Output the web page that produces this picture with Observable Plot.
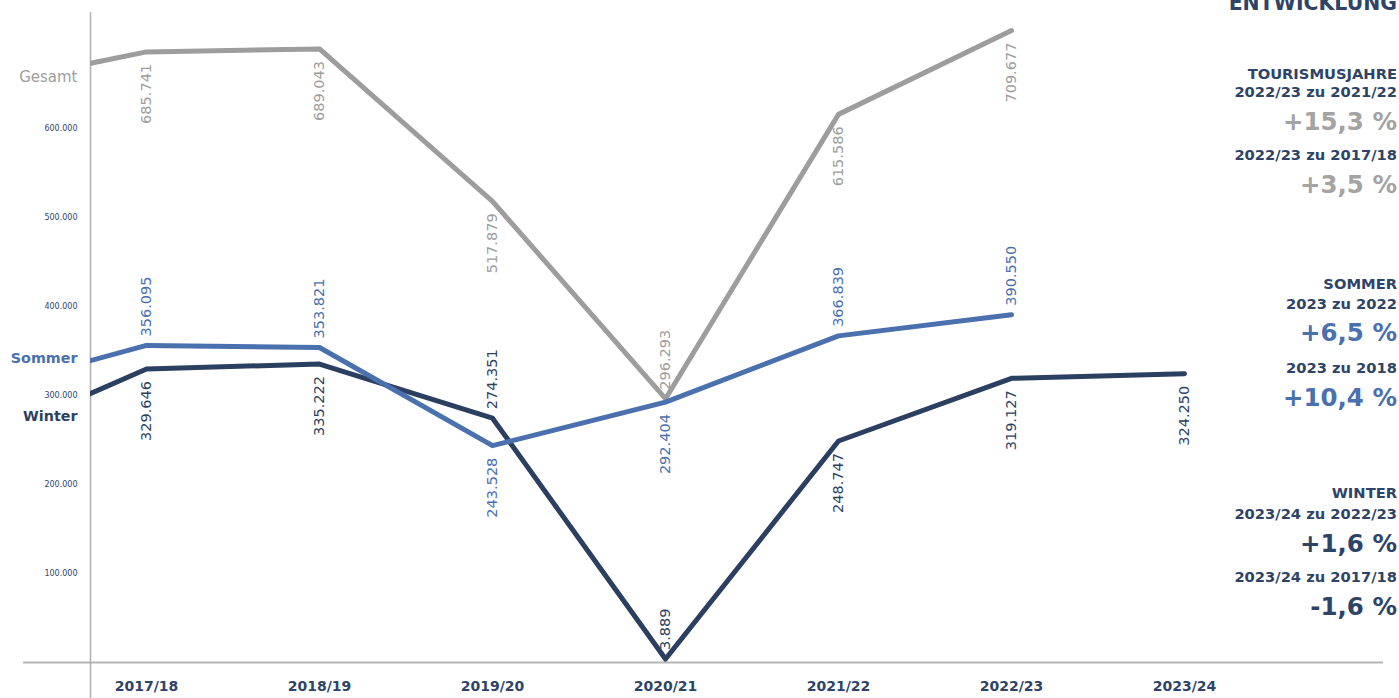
<!DOCTYPE html>
<html><head><meta charset="utf-8">
<script src="https://cdn.jsdelivr.net/npm/d3@7"></script>
<script src="https://cdn.jsdelivr.net/npm/@observablehq/plot@0.6"></script>
<style>
body{margin:0;background:#fff;font-family:"DejaVu Sans", sans-serif;}
#wrap{position:relative;width:1399px;height:698px;overflow:hidden;}
#panel{position:absolute;right:2px;top:0;width:300px;height:698px;}
.r{position:absolute;right:0;white-space:nowrap;line-height:1;font-weight:700;}
</style></head><body><div id="wrap"><div id="chart"></div><div id="panel"></div></div>
<script>
// ---- data ----
const seasons = ["2017/18","2018/19","2019/20","2020/21","2021/22","2022/23","2023/24"];
const gesamt = [685741, 689043, 517879, 296293, 615586, 709677];
const sommer = [356095, 353821, 243528, 292404, 366839, 390550];
const winter = [329646, 335222, 274351, 3889, 248747, 319127, 324250];
// estimated preceding season (2016/17), only the clipped lead-in is visible
const leadIn = [646400, 303300, 244200]; // Gesamt, Sommer, Winter
const gesamtPos = ["below","below","below","above","below","below"];
const sommerPos = ["above","above","below","below","above","above"];
const winterPos = ["below","below","above","above","below","below","below"];
const yTicks = [100000, 200000, 300000, 400000, 500000, 600000];
const seriesNames = ["Gesamt","Sommer","Winter"];
const panelText = [
  ["ENTWICKLUNG","h"],
  ["TOURISMUSJAHRE","s"],["2022/23 zu 2021/22","s"],["+15,3 %","bg"],["2022/23 zu 2017/18","s"],["+3,5 %","bg"],
  ["SOMMER","s"],["2023 zu 2022","s"],["+6,5 %","bb"],["2023 zu 2018","s"],["+10,4 %","bb"],
  ["WINTER","s"],["2023/24 zu 2022/23","s"],["+1,6 %","bn"],["2023/24 zu 2017/18","s"],["-1,6 %","bn"]
];

// ---- styles ----
const colors = {Gesamt:"#9d9d9d", Sommer:"#4a70ae", Winter:"#2b3f60"};
const navy = "#2e4467";
const panelY = [2.5,74,92,122,155,185,284,304,333,368,398,493,514,544,577,607];
const FONT = "'DejaVu Sans', sans-serif";

const de = d3.formatLocale({decimal:",", thousands:".", grouping:[3], currency:["","€"]});
const fmt = de.format(",d");

const series = [["Gesamt", gesamt, gesamtPos], ["Sommer", sommer, sommerPos], ["Winter", winter, winterPos]];
const lineData = [];
const labelData = [];
series.forEach(([s, vals, pos], k) => {
  lineData.push({s, i: -1, v: leadIn[k]});
  vals.forEach((v, i) => {
    lineData.push({s, i, v});
    labelData.push({s, i, v, pos: pos[i]});
  });
});

const xMin = -56/173, xMax = (1383-146)/173;
// value at the left frame edge, for series name placement
const edge = series.map(([s, vals], k) => ({s, v: leadIn[k] + (vals[0]-leadIn[k])*(1 + xMin)}));
const nameDy = {Gesamt: 14, Sommer: -2, Winter: 23};

const order = ["Gesamt","Winter","Sommer"];
const chart = Plot.plot({
  width: 1399, height: 698,
  marginLeft: 90, marginRight: 16, marginTop: 12, marginBottom: 36,
  x: {domain: [xMin, xMax], range: [90, 1383], axis: null, label: null},
  y: {domain: [0, 730000], range: [662, 12], axis: null, label: null},
  style: {fontFamily: FONT, background: "transparent", overflow: "visible"},
  marks: [
    Plot.ruleY([0], {x1: -123/173, x2: xMax, stroke: "#b5b5b5", strokeWidth: 2}),
    Plot.ruleX([xMin], {y1: 730000, y2: -40500, stroke: "#b0b0b0", strokeWidth: 1.5}),
    Plot.axisY({ticks: yTicks, tickFormat: fmt, tickSize: 0, tickPadding: 13, fontSize: 8, color: navy, label: null}),
    Plot.axisX({ticks: d3.range(seasons.length), tickFormat: i => seasons[i], tickSize: 0, tickPadding: 19, fontSize: 14, fontWeight: "bold", color: navy, label: null}),
    ...order.map(s => Plot.line(lineData.filter(d => d.s === s), {
      x: "i", y: "v", stroke: colors[s], strokeWidth: 5, strokeLinejoin: "round", clip: true
    })),
    ...["above","below"].map(p => Plot.text(labelData.filter(d => d.pos === p), {
      x: "i", y: "v", text: d => fmt(d.v), fill: d => colors[d.s], rotate: -90,
      textAnchor: p === "above" ? "start" : "end", lineAnchor: "middle",
      dy: p === "above" ? -9 : 12, fontSize: 14.5
    })),
    ...seriesNames.map(s => Plot.text(edge.filter(d => d.s === s), {
      frameAnchor: "left", y: "v", text: "s", fill: colors[s], textAnchor: "end",
      dx: -13, dy: nameDy[s], fontSize: s === "Gesamt" ? 15 : 14.3, fontWeight: s === "Gesamt" ? 500 : 700, lineAnchor: "middle"
    }))
  ]
});
document.getElementById("chart").appendChild(chart);

const panel = document.getElementById("panel");
const sizes = {h: 20.4, s: 14.7, bg: 24.5, bb: 24.5, bn: 24.5};
const pcol = {h: navy, s: navy, bg: "#a3a3a3", bb: "#4a70ae", bn: navy};
panelText.forEach(([t, k], j) => {
  const el = document.createElement("div");
  el.className = "r";
  el.textContent = t;
  el.style.fontSize = sizes[k] + "px";
  el.style.color = pcol[k];
  el.style.top = (panelY[j] - sizes[k] * 0.48) + "px";
  panel.appendChild(el);
});
</script>
</body></html>
